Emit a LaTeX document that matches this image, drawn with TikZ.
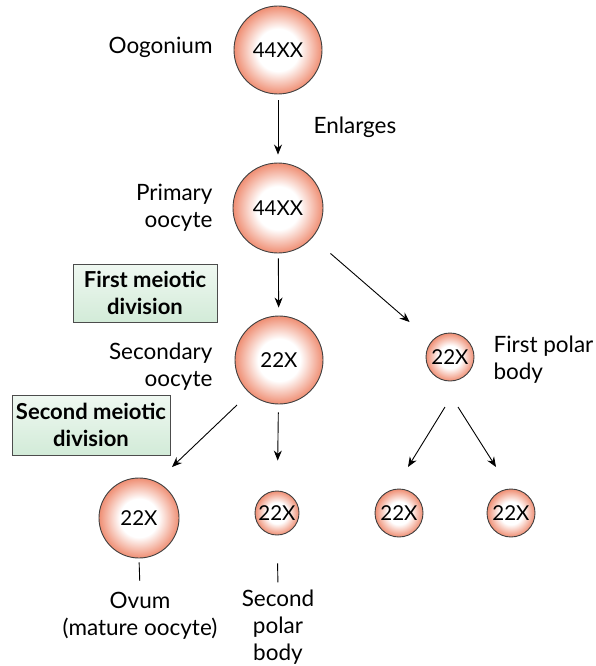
\documentclass[tikz,border=0pt]{standalone}
\usepackage{fontspec}
\setmainfont{Lato}
\usetikzlibrary{arrows.meta}
\usetikzlibrary{calc}

\definecolor{cellrim}{RGB}{239,142,115}
\definecolor{boxgreen}{RGB}{210,235,216}
\pgfdeclareradialshading{cellshade}{\pgfpoint{0bp}{0bp}}{color(0bp)=(white); color(12bp)=(white); color(25bp)=(cellrim); color(50bp)=(cellrim)}

\tikzset{
  cell/.style={circle, draw=black!75, line width=0.9pt, shading=cellshade,
    inner sep=0pt, minimum size=#1, font=\fontsize{20.5}{24}\selectfont},
  lbl/.style={font=\fontsize{22.5}{27}\selectfont, align=center},
  divbox/.style={draw=black!70, line width=1pt, top color=boxgreen!35, bottom color=boxgreen,
    font=\bfseries\fontsize{22}{27}\selectfont, align=center, inner sep=0pt},
  arr/.style={-{Stealth[length=10pt,width=8pt]}, line width=0.9pt},
  tick/.style={line width=0.9pt},
}

\begin{document}
\begin{tikzpicture}[x=1pt,y=-1pt]
\useasboundingbox (0,0) rectangle (595,666);

% cells
\node[cell=88pt] (oog) at (278,50) {44XX};
\node[cell=90pt] (prim) at (278,208) {44XX};
\node[cell=88pt] (sec) at (279,360) {22X};
\node[cell=48pt] (fpb) at (450,357) {22X};
\node[cell=80pt] (ovum) at (139,518) {22X};
\node[cell=44pt] (spb) at (277,513) {22X};
\node[cell=48pt] (pb1) at (399,513) {22X};
\node[cell=48pt] (pb2) at (511,513) {22X};

% labels
\node[lbl, anchor=east] (oogl) at (216,47) {Oogonium};
\node[lbl, anchor=west] (enl) at (310,127) {Enlarges};
\node[lbl, align=right, anchor=east] (priml) at (216,208) {Primary\\oocyte};
\node[lbl, align=right, anchor=east] (secl) at (216,367) {Secondary\\oocyte};
\node[lbl, align=left, anchor=west] (fpbl) at (490,360) {First polar\\body};
\node[lbl] (ovuml) at (140,616) {Ovum\\(mature oocyte)};
\node[lbl] (spbl) at (278,627) {Second\\polar\\body};

% division boxes
\node[divbox, minimum width=144pt, minimum height=58pt] (div1) at (145,293) {First meiotic\\division};
\node[divbox, minimum width=158pt, minimum height=60pt] (div2) at (91,425) {Second meiotic\\division};

% arrows
\draw[arr, shorten <=6pt, shorten >=8pt] (oog) -- (prim);
\draw[arr, shorten <=5pt, shorten >=8pt] (prim) -- (sec);
\draw[arr, shorten <=24pt, shorten >=29pt] (prim) -- (fpb);
\draw[arr] ($(sec)+(-42,45)$) -- ($(ovum)+(33,-51)$);
\draw[arr, shorten <=8pt, shorten >=30pt] (sec) -- (spb);
\draw[arr] ($(fpb)+(-5,50)$) -- ($(pb1)+(9,-46)$);
\draw[arr] ($(fpb)+(8,50)$) -- ($(pb2)+(-15,-46)$);

% ticks under the ovum and second polar body
\draw[tick, shorten <=4pt, shorten >=8pt] (ovum.south) -- (ovuml.north);
\draw[tick, shorten <=28pt, shorten >=4pt] (spb.south) -- (spbl.north);
\end{tikzpicture}
\end{document}
